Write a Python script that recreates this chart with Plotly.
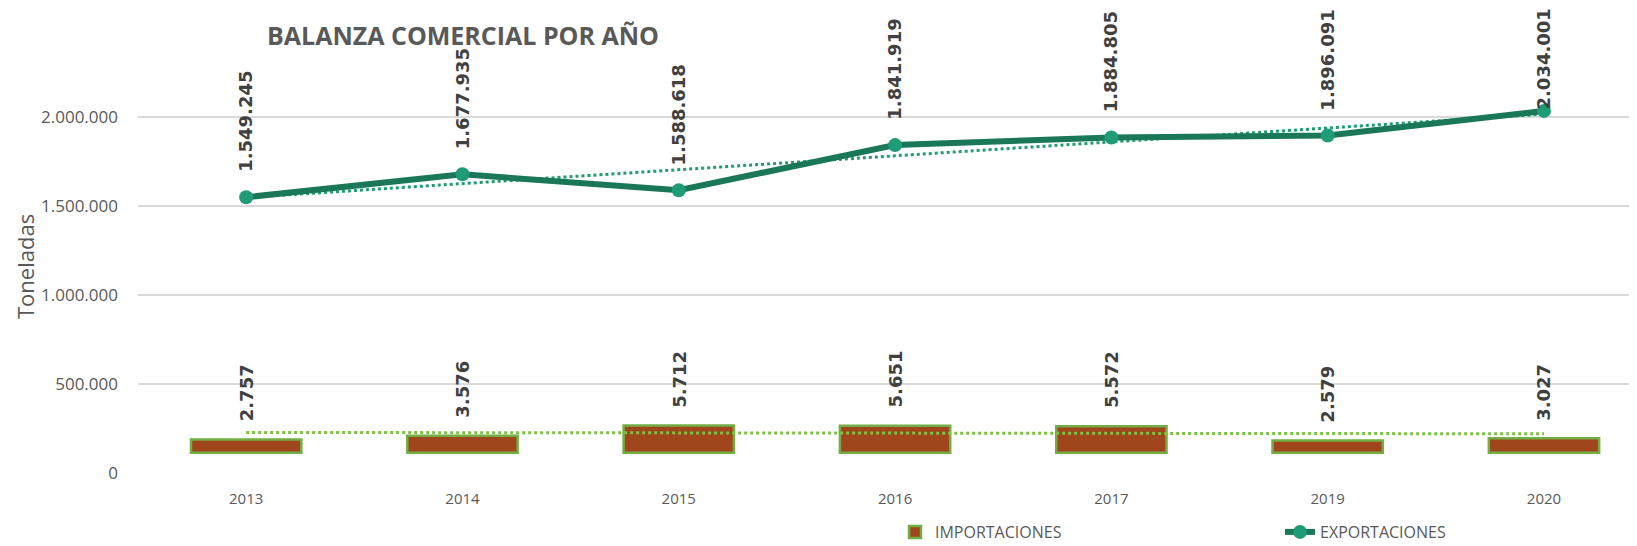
import numpy as np
import plotly.graph_objects as go

years = ["2013", "2014", "2015", "2016", "2017", "2019", "2020"]
importaciones = [2757, 3576, 5712, 5651, 5572, 2579, 3027]
exportaciones = [1549245, 1677935, 1588618, 1841919, 1884805, 1896091, 2034001]

# The page body keeps the browser's default 8px margin, so the figure is
# sized and laid out in coordinates offset by 8px from the window.
OFF = 8
W, H = 1637 - OFF, 546 - OFF
M_L, M_R, M_T, M_B = 130, 0, 73, 73
PLOT_W = W - M_L - M_R
PLOT_H = H - M_T - M_B
Y1_RANGE = [0, 2202000]
Y2_RANGE = [-4274, 78252]

GRAY = "#595959"
LABEL = "#404040"
FONT = "Open Sans"


def fmt(v):
    return f"{v:,}".replace(",", ".")


idx = np.arange(1, len(years) + 1)
exp_fit = np.polyval(np.polyfit(idx, exportaciones, 1), idx)
imp_fit = np.polyval(np.polyfit(idx, importaciones, 1), idx)

fig = go.Figure()

fig.add_trace(go.Bar(
    x=years, y=importaciones, yaxis="y2", name="IMPORTACIONES",
    width=0.51,
    marker=dict(color="#a0461c", line=dict(color="#72ae45", width=2.5)),
    hoverinfo="skip",
))
fig.add_trace(go.Scatter(
    x=years, y=imp_fit, yaxis="y2", mode="lines", showlegend=False,
    line=dict(color="#7dc242", width=3, dash="dot"), hoverinfo="skip",
))
fig.add_trace(go.Scatter(
    x=years, y=exp_fit, mode="lines", showlegend=False,
    line=dict(color="#1f9c74", width=3, dash="dot"), hoverinfo="skip",
))
fig.add_trace(go.Scatter(
    x=years, y=exportaciones, mode="lines+markers", name="EXPORTACIONES",
    line=dict(color="#1a7757", width=6),
    marker=dict(color="#1f9c76", size=14),
    hoverinfo="skip",
))

label_font = dict(family="DejaVu Sans", size=18, color=LABEL, weight="bold")
annotations = []
LABEL_LEN = 101
TOP_LIMIT = 10 - OFF
for i, v in enumerate(exportaciones):
    py = M_T + PLOT_H * (1 - (v - Y1_RANGE[0]) / (Y1_RANGE[1] - Y1_RANGE[0]))
    shift = float(min(23, py - TOP_LIMIT - LABEL_LEN))
    annotations.append(dict(
        x=i, y=v, xref="x", yref="y", text=fmt(v), showarrow=False,
        textangle=-90, yanchor="bottom", xanchor="center", yshift=shift,
        font=label_font,
    ))
for i, v in enumerate(importaciones):
    annotations.append(dict(
        x=i, y=v, xref="x", yref="y2", text=fmt(v), showarrow=False,
        textangle=-90, yanchor="bottom", xanchor="center", yshift=16,
        font=label_font,
    ))
annotations.append(dict(
    x=(17 - M_L) / PLOT_W, y=(H - M_B - 259) / PLOT_H, xref="paper", yref="paper",
    text="Toneladas", showarrow=False, textangle=-90,
    xanchor="center", yanchor="middle",
    font=dict(family=FONT, size=22, color=GRAY),
))

fig.update_layout(
    width=W, height=H,
    margin=dict(l=M_L, r=M_R, t=M_T, b=M_B, autoexpand=False),
    paper_bgcolor="white", plot_bgcolor="white",
    separators=",.",
    title=dict(
        text="<b>BALANZA COMERCIAL POR AÑO</b>", x=455 / W, xanchor="center",
        y=1 - 28 / H, yanchor="middle",
        font=dict(family=FONT, size=25, color=GRAY),
    ),
    xaxis=dict(
        type="category", range=[-0.5, 6.43], showgrid=False, zeroline=False,
        showline=False, ticks="", ticklabelstandoff=15, automargin=False,
        tickfont=dict(family=FONT, size=15, color=GRAY),
    ),
    yaxis=dict(
        range=Y1_RANGE, dtick=500000, tickformat=",d",
        showgrid=True, gridcolor="#d9d9d9", gridwidth=2, automargin=False,
        zeroline=False, showline=False, ticks="", ticklabelstandoff=19,
        tickfont=dict(family=FONT, size=17, color=GRAY),
    ),
    yaxis2=dict(
        range=Y2_RANGE, overlaying="y", side="right", visible=False,
        showgrid=False, zeroline=False,
    ),
    legend=dict(
        orientation="h", x=(887 - M_L) / PLOT_W, xanchor="left",
        y=-59 / PLOT_H, yanchor="middle", entrywidth=340,
        font=dict(family=FONT, size=16, color=GRAY),
        bgcolor="rgba(0,0,0,0)",
    ),
    annotations=annotations,
    showlegend=True,
)

fig.write_html("out.html")
